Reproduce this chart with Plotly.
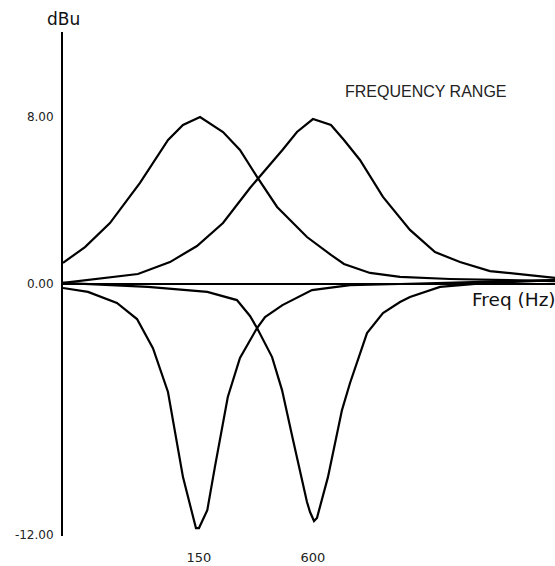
import plotly.graph_objects as go

# Frequencies (Hz) and gains (dB)
boost150_hz = [28.7, 37.5, 50.8, 73.2, 103, 123.5, 152, 201, 247, 304, 388, 558, 747, 875, 1201, 1730, 3178, 11394]
boost150_db = [1.01, 1.77, 2.92, 4.84, 6.90, 7.62, 8.00, 7.28, 6.42, 5.13, 3.69, 2.25, 1.39, 0.96, 0.53, 0.34, 0.24, 0.14]

boost600_hz = [28.7, 71.4, 105.4, 146.4, 200.9, 279, 414, 494, 600, 747, 875, 1063, 1406, 1953, 2648, 3588, 5167, 8105, 11394]
boost600_db = [0.05, 0.48, 1.05, 1.82, 2.92, 4.60, 6.42, 7.28, 7.90, 7.62, 6.90, 5.94, 4.17, 2.59, 1.53, 1.05, 0.62, 0.43, 0.29]

cut150_hz = [28.7, 38.9, 55.3, 70.6, 85.7, 102.9, 123.5, 144.6, 150, 166, 182, 213, 247, 304, 335, 414, 593, 942, 1730, 5837, 11394]
cut150_db = [-0.19, -0.38, -0.91, -1.68, -3.07, -5.17, -9.25, -11.69, -11.69, -10.83, -8.77, -5.41, -3.54, -2.11, -1.58, -1.01, -0.29, -0.05, 0.0, 0.10, 0.19]

cut600_hz = [28.7, 80.7, 166, 238, 279, 304, 365, 412, 471, 558, 579, 608, 630, 720, 854, 942, 1158, 1406, 1730, 1953, 2814, 4982, 11394]
cut600_db = [0.05, -0.14, -0.38, -0.77, -1.53, -2.11, -3.50, -5.08, -7.47, -10.44, -10.92, -11.35, -11.21, -9.25, -6.04, -4.74, -2.35, -1.39, -0.86, -0.62, -0.14, 0.05, 0.19]

x_tick_vals = [150, 600]
x_tick_text = ["150", "600"]
y_tick_vals = [8, 0, -12]
y_tick_text = ["8.00", "0.00", "-12.00"]

fig = go.Figure()
for xs, ys in [(boost150_hz, boost150_db), (boost600_hz, boost600_db),
               (cut150_hz, cut150_db), (cut600_hz, cut600_db)]:
    fig.add_trace(go.Scatter(x=xs, y=ys, mode="lines",
                             line=dict(color="black", width=2.2),
                             hoverinfo="skip"))

fig.update_xaxes(type="log", range=[1.4579, 4.0567],
                 tickvals=x_tick_vals, ticktext=x_tick_text,
                 showgrid=False, showline=False, zeroline=False,
                 ticks="", ticklabelstandoff=12,
                 tickfont=dict(family="DejaVu Sans", size=13, color="#222"))
fig.update_yaxes(range=[-12.07, 12.07],
                 tickvals=y_tick_vals, ticktext=y_tick_text,
                 showgrid=False, showline=True, linecolor="black", linewidth=2,
                 zeroline=True, zerolinecolor="black", zerolinewidth=2,
                 ticks="", ticklabelstandoff=5,
                 tickfont=dict(family="DejaVu Sans", size=12, color="#222"))

fig.add_annotation(text="dBu", x=0, y=1.0258, xref="paper", yref="paper",
                   xanchor="center", yanchor="middle", showarrow=False,
                   font=dict(family="DejaVu Sans", size=17, color="#111"))
fig.add_annotation(text="FREQUENCY RANGE", x=0.7378, y=0.8829, xref="paper", yref="paper",
                   xanchor="center", yanchor="middle", showarrow=False,
                   font=dict(family="Liberation Sans", size=16, color="#222"))
fig.add_annotation(text="Freq (Hz)", x=1, y=0.4683, xref="paper", yref="paper",
                   xanchor="right", yanchor="middle", showarrow=False, xshift=3,
                   font=dict(family="DejaVu Sans", size=18.5, color="#111"))

fig.update_layout(width=555, height=566,
                  margin=dict(l=63, r=0, t=32, b=30),
                  plot_bgcolor="white", paper_bgcolor="white",
                  showlegend=False)

fig.write_html("out.html", config={"displayModeBar": False},
               post_script="document.body.style.margin='0';document.body.style.overflow='hidden';")
